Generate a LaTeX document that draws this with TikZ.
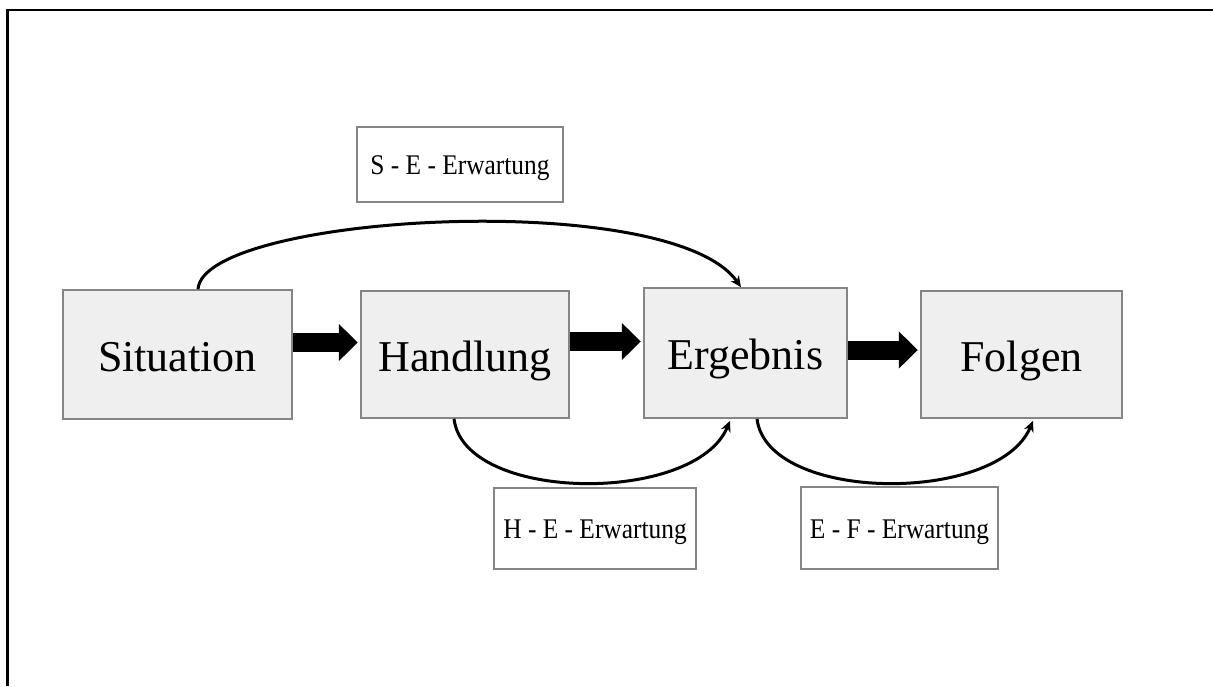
\documentclass[tikz,border=0pt]{standalone}
\usepackage{fontspec}
\setmainfont{Liberation Serif}
\usetikzlibrary{arrows.meta,calc}

\definecolor{boxfill}{HTML}{EFEFEF}
\definecolor{boxedge}{HTML}{858585}

\newcommand{\tallish}[1]{\scalebox{1}[1.12]{#1}}

\tikzset{
  stage/.style={draw=boxedge, line width=0.8pt, fill=boxfill, inner sep=0pt,
    text height=16.5pt, text depth=0pt,
    font=\fontsize{22}{26}\selectfont},
  expect/.style={draw=boxedge, line width=0.6pt, fill=white, inner sep=0pt,
    text height=10.2pt, text depth=0pt,
    font=\fontsize{12.7}{15}\selectfont},
  flow/.style={line width=9.5pt, -{Triangle[length=9.5pt,width=18pt]}, shorten >=1.2pt},
  link/.style={line width=1.5pt, -{Stealth[length=5.5pt,width=5pt]}}
}

\begin{document}
\begin{tikzpicture}[x=0.5pt, y=-0.5pt]
  \useasboundingbox (0,0) rectangle (1213,686);

  % open frame: top and left edges only
  \draw[line width=1.4pt] (7.5,686) -- (7.5,10) -- (1213,10);

  % the four stages
  \node[stage, minimum width=114.5pt, minimum height=64.5pt] (sit)  at (177.5,354.5) {Situation};
  \node[stage, minimum width=104pt,   minimum height=63.5pt] (hand) at (465,354.5)   {Handlung};
  \node[stage, minimum width=101.5pt, minimum height=65pt]   (erg)  at (745.5,353)    {Ergebnis};
  \node[stage, minimum width=100.5pt, minimum height=63.5pt] (fol)  at (1021.5,354.5) {Folgen};

  % expectation labels
  \node[expect, minimum width=103pt, minimum height=37.5pt] (se) at (460,164.5) {\tallish{S - E - Erwartung}};
  \node[expect, minimum width=101pt, minimum height=40.5pt] (he) at (595,528.5) {\tallish{H - E - Erwartung}};
  \node[expect, minimum width=98.5pt, minimum height=41pt]  (ef) at (899.5,528) {\tallish{E - F - Erwartung}};

  % main sequence
  \draw[flow] ($(sit.east)+(0,-12)$)    -- ($(hand.west)+(0,-12)$);
  \draw[flow] ($(hand.east)+(0,-13)$)   -- ($(erg.west)+(0,-11.5)$);
  \draw[flow] ($(erg.east)+(0,-3)$)     -- ($(fol.west)+(0,-4.5)$);

  % expectation arcs
  \draw[link] ($(sit.north)+(20.5,0)$)
      .. controls +(5,-75) and +(-70,-100) .. ($(erg.north)+(-4.5,0)$);
  \draw[link] ($(hand.south)+(-11,0)$)
      .. controls +(10,84) and +(-35,84) .. ($(erg.south)+(-15.5,2)$);
  \draw[link] ($(erg.south)+(11.5,0)$)
      .. controls +(10,84) and +(-35,84) .. ($(fol.south)+(11.5,2)$);
\end{tikzpicture}
\end{document}
